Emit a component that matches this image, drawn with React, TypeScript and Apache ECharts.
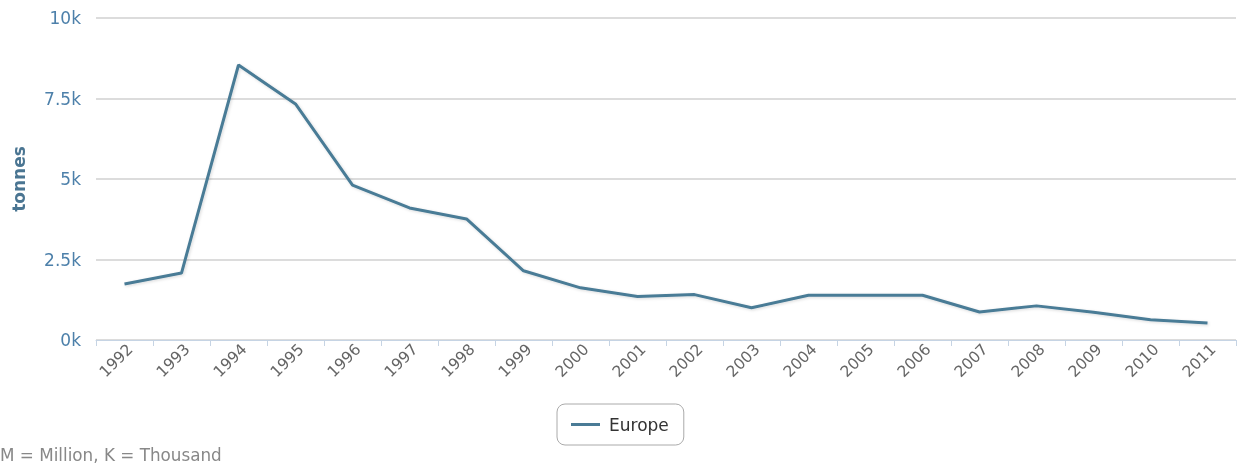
import React, { useEffect, useRef } from "react";
import * as echarts from "echarts";

const years = ["1992","1993","1994","1995","1996","1997","1998","1999","2000","2001","2002","2003","2004","2005","2006","2007","2008","2009","2010","2011"];
const europe = [1740, 2080, 8540, 7330, 4810, 4100, 3760, 2150, 1620, 1350, 1410, 1000, 1390, 1390, 1390, 870, 1060, 860, 630, 530];
const yTicks = [0, 2500, 5000, 7500, 10000];

const FONT = "DejaVu Sans";

export default function App() {
  const ref = useRef<HTMLDivElement>(null);
  useEffect(() => {
    const chart = echarts.init(ref.current!, null, { renderer: "svg" });
    chart.setOption({
      animation: false,
      grid: { left: 96, right: 1, top: 18, bottom: 124 },
      legend: {
        left: 557,
        top: 404,
        data: ["Europe"],
        icon: "rect",
        itemWidth: 29,
        itemHeight: 3,
        borderColor: "#aaa",
        borderWidth: 1,
        borderRadius: 8,
        padding: [12, 15, 12, 14],
        textStyle: { color: "#333", fontSize: 17, fontFamily: FONT, padding: [0, 0, 0, 4] },
      },
      xAxis: {
        type: "category",
        data: years,
        boundaryGap: true,
        axisLine: { lineStyle: { color: "#c6d4e4", width: 1 } },
        axisTick: { show: true, alignWithLabel: false, length: 6, lineStyle: { color: "#c6d4e4" } },
        axisLabel: { rotate: 45, color: "#666", fontSize: 15.5, fontFamily: FONT, margin: 1, interval: 0, verticalAlign: "top" },
      },
      yAxis: {
        type: "value",
        min: yTicks[0],
        max: yTicks[yTicks.length - 1],
        interval: 2500,
        name: "tonnes",
        nameLocation: "middle",
        nameGap: 69,
        nameTextStyle: { color: "#4a7592", fontSize: 17, fontWeight: "bold", fontFamily: FONT },
        axisLine: { show: false },
        axisTick: { show: false },
        splitLine: { lineStyle: { color: "#d0d0d0", width: 1.5 } },
        axisLabel: {
          color: "#4d80aa",
          fontSize: 17,
          fontFamily: FONT,
          margin: 15,
          formatter: (v: number) => (v / 1000) + "k",
        },
      },
      series: [
        {
          name: "Europe",
          type: "line",
          data: europe,
          symbol: "none",
          lineStyle: { color: "#4a7b96", width: 3, shadowColor: "rgba(0,0,0,0.15)", shadowBlur: 3, shadowOffsetX: 1, shadowOffsetY: 1 },
          itemStyle: { color: "#4a7b96" },
        },
      ],
      graphic: [
        {
          type: "text",
          left: 0,
          top: 446,
          style: { text: "M = Million, K = Thousand", fill: "#888", fontSize: 16.8, fontFamily: FONT },
        },
      ],
    });
    return () => chart.dispose();
  }, []);
  return <div ref={ref} style={{ position: "fixed", left: 0, top: 0, width: 1237, height: 464 }} />;
}
